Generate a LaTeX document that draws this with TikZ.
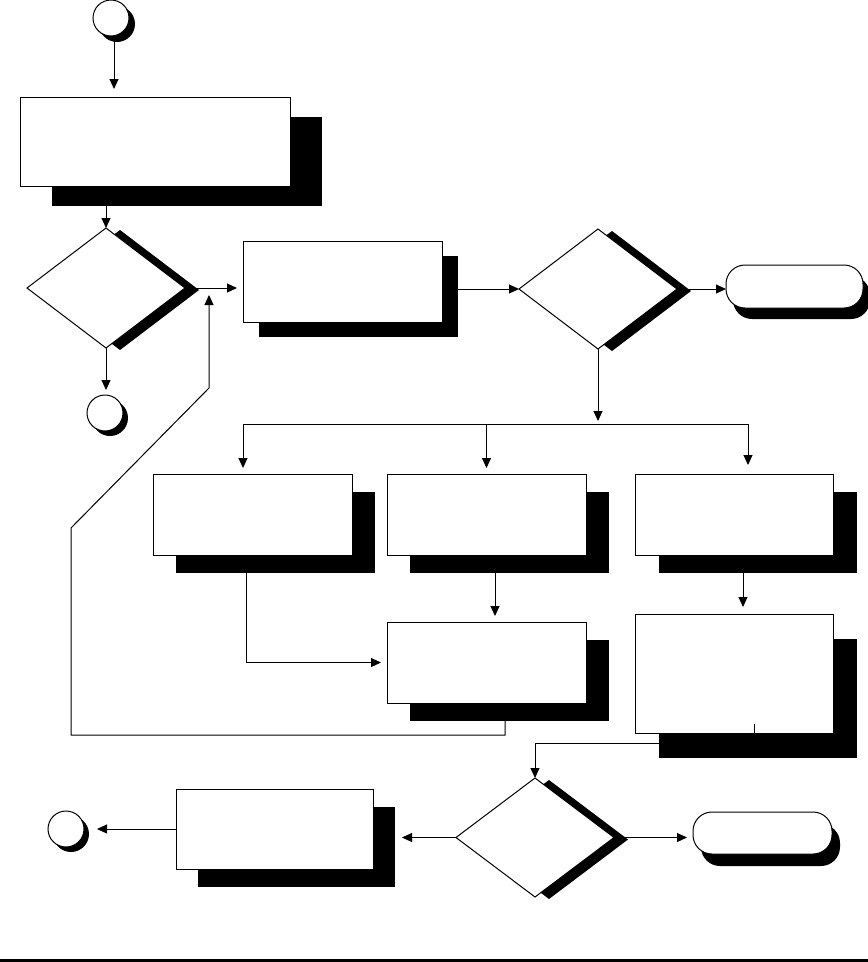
\documentclass[tikz,border=0pt]{standalone}
\usetikzlibrary{shapes.geometric,shadows,arrows.meta,calc,backgrounds}
\begin{document}
\begin{tikzpicture}[x=1pt,y=-1pt,
  line/.style={line width=1pt},
  arr/.style={line width=1pt,-{Triangle[length=10pt,width=9pt]}},
  sh/.style 2 args={drop shadow={shadow xshift=#1pt, shadow yshift=-#2pt, fill=black, opacity=1}},
  base/.style={draw, line width=1pt, fill=white, inner sep=0pt, outer sep=0pt},
  proc/.style={base, rectangle},
  dec/.style={base, diamond, minimum width=158pt, minimum height=120pt},
  conn/.style={base, circle, minimum size=36pt},
  term/.style={base, rectangle, rounded corners=19pt},
]
\useasboundingbox (0,0) rectangle (868,962);

% nodes
\node[conn, sh={6}{6}] (c1) at (111,18) {};
\node[proc, sh={32}{20}, minimum width=270pt, minimum height=89pt] (b1) at (155,141.5) {};
\node[dec, sh={14}{2}] (d1) at (106,288) {};
\node[conn, sh={5}{5}] (c2) at (105,413) {};
\node[proc, sh={16}{15}, minimum width=199pt, minimum height=81pt] (b2) at (342.5,281.5) {};
\node[dec, sh={14}{2}] (d2) at (598,289) {};
\node[term, sh={7}{11}, minimum width=137pt, minimum height=43pt] (t1) at (794.5,286.5) {};
\node[proc, sh={23}{17.5}, minimum width=199pt, minimum height=81pt] (b3) at (252.5,514.5) {};
\node[proc, sh={23}{17.5}, minimum width=199pt, minimum height=81pt] (b4) at (486.5,514.5) {};
\node[proc, sh={23.5}{17.5}, minimum width=198pt, minimum height=81pt] (b6) at (734,514.5) {};
\node[proc, sh={23}{18}, minimum width=199pt, minimum height=81pt] (b5) at (486.5,662.5) {};
\node[proc, sh={24}{25}, minimum width=198pt, minimum height=119pt] (b7) at (734,673.5) {};
\node[dec, sh={14}{2}, minimum height=119pt] (d3) at (535,837.5) {};
\node[proc, sh={22}{17.5}, minimum width=197pt, minimum height=80pt] (b8) at (274.5,829) {};
\node[conn, sh={5}{5}] (c3) at (66,829) {};
\node[term, sh={8}{12}, minimum width=139pt, minimum height=42pt] (t2) at (762.5,833) {};

\coordinate (fbtip) at (209,295);
\coordinate (j) at (598,424);
\coordinate (jL) at (243,424);
\coordinate (jR) at (748,424);

\draw[line] ($(b7.south)+(20,0)$) -- ++(0,-9);

\begin{scope}[on background layer]
\draw[arr, shorten >=8pt] ($(c1.south)+(3,0)$) coordinate (p) -- (p |- b1.north);
\draw[arr] (d1.north |- b1.south) -- (d1.north);
\draw[arr, shorten >=6pt] (d1.east) -- (d1.east -| b2.west);
\draw[arr, shorten >=5pt] (d1.south) -- (d1.south |- c2.north);
\draw[arr] ($(b5.south)+(18.5,0)$) -- ++(0,32) -| (71,528) -- (209,388) -- (fbtip);
\draw[arr] (b2.east |- d2.west) -- (d2.west);
\draw[arr] (d2.east) -- (d2.east -| t1.west);
\draw[arr, shorten >=3pt] (d2.south) -- (j);
\draw[line] (jL) -- (jR);
\draw[arr, shorten >=6pt] (jL) -- (jL |- b3.north);
\draw[arr, shorten >=6pt] (jL -| b4.north) -- (b4.north);
\draw[arr, shorten >=9pt] (jR) -- (jR |- b6.north);
\draw[arr, shorten >=6pt] ($(b3.south)+(-6.5,0)$) coordinate (r) -- (r |- b5.west) -- (b5.west);
\draw[arr, shorten >=6pt] ($(b4.south)+(8.5,0)$) coordinate (s) -- (s |- b5.north);
\draw[arr, shorten >=7pt] ($(b6.south)+(9,0)$) coordinate (u) -- (u |- b7.north);
\draw[arr] ($(b7.south)+(0,10.5)$) -| (d3.north);
\draw[arr, shorten >=29pt] (d3.west) -- (d3.west -| b8.east);
\draw[arr, shorten >=13pt] (b8.west) -- (b8.west -| c3.east);
\draw[arr, shorten >=6pt] (d3.east) -- (d3.east -| t2.west);
\end{scope}

\fill (0,959) rectangle (868,962);
\end{tikzpicture}
\end{document}
